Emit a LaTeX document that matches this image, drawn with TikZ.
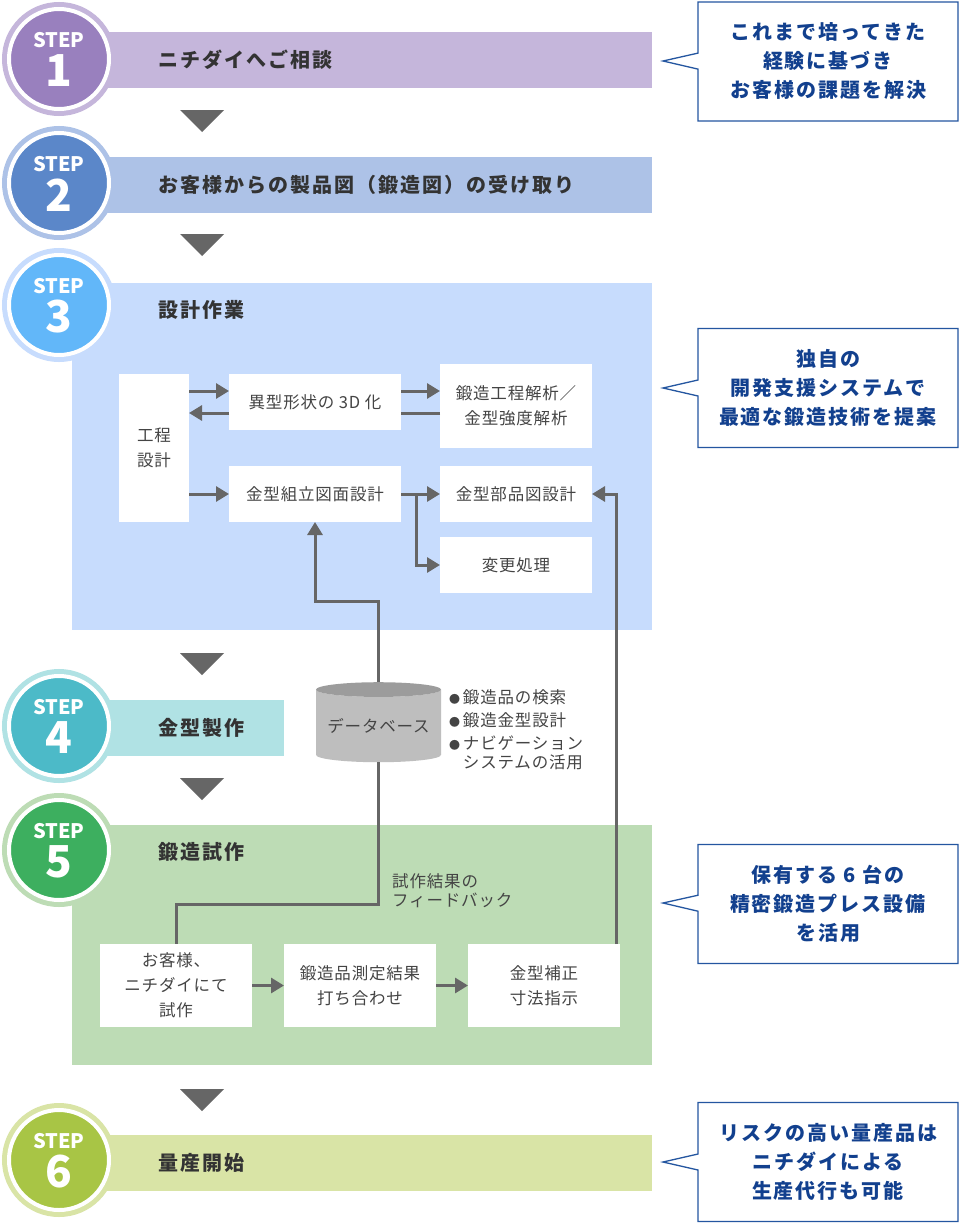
\documentclass[tikz,border=0pt]{standalone}
\usepackage{fontspec}
\setmainfont{Noto Sans CJK JP}
\newfontfamily\widejp[LetterSpace=10]{Noto Sans CJK JP}
\newfontfamily\plainjp[LetterSpace=5]{Noto Sans CJK JP}
\usetikzlibrary{arrows.meta,positioning,calc,shapes.geometric,shapes.callouts}
\definecolor{ringA}{HTML}{C5B6DB}\definecolor{coreA}{HTML}{9980BE}
\definecolor{ringB}{HTML}{ADC2E7}\definecolor{coreB}{HTML}{5B87C9}
\definecolor{ringC}{HTML}{C7DCFD}\definecolor{coreC}{HTML}{62B7F9}
\definecolor{ringD}{HTML}{B0E2E4}\definecolor{coreD}{HTML}{4CBAC8}
\definecolor{ringE}{HTML}{BDDCB5}\definecolor{coreE}{HTML}{3DAF5F}
\definecolor{ringF}{HTML}{D9E4A6}\definecolor{coreF}{HTML}{A8C545}
\definecolor{inkdark}{HTML}{333333}
\definecolor{inkbox}{HTML}{444444}
\definecolor{flowgray}{HTML}{666666}
\definecolor{calloutline}{HTML}{2456A0}
\definecolor{callouttext}{HTML}{12408E}
\definecolor{dbbody}{HTML}{BEBEBE}
\definecolor{dbtop}{HTML}{9C9C9C}
\tikzset{
  disc/.style 2 args={circle, minimum size=100pt, inner sep=0pt, fill=#2, draw=white, line width=4pt, preaction={draw=#1, line width=14pt}},
  steptag/.style={text=white, inner sep=0pt, font=\bfseries\fontsize{20}{20}\selectfont},
  stepno/.style={text=white, inner sep=0pt, font=\bfseries\fontsize{44}{44}\selectfont},
  stepbar/.style={anchor=west, minimum height=56pt, inner sep=0pt, outer sep=0pt, fill=#1},
  panel/.style={anchor=north west, inner sep=0pt, outer sep=0pt, fill=#1},
  steptitle/.style={anchor=west, inner sep=0pt, text=inkdark, font=\widejp\bfseries\fontsize{20}{24}\selectfont},
  box/.style={fill=white, align=center, inner sep=0pt, outer sep=0pt, text=inkbox, font=\plainjp\fontsize{16.5}{25}\selectfont},
  note/.style={align=left, inner sep=0pt, text=inkbox, font=\plainjp\fontsize{16.5}{19}\selectfont},
  dbase/.style={cylinder, shape border rotate=90, aspect=0.144, minimum width=125pt, minimum height=80pt, inner sep=0pt, outer sep=0pt,
    cylinder uses custom fill, cylinder body fill=dbbody, cylinder end fill=dbtop, text=inkbox, font=\plainjp\fontsize{16.5}{20}\selectfont},
  bubble/.style={rectangle callout, fill=white, draw=calloutline, line width=1.3pt, minimum width=260pt, minimum height=119pt,
    callout pointer width=16pt, align=center, inner sep=0pt, text=callouttext, font=\widejp\bfseries\fontsize{20}{29}\selectfont},
  arr/.style={draw=flowgray, line width=3pt, -{Triangle[length=13pt,width=15pt]}},
  wire/.style={draw=flowgray, line width=3pt},
  dropmark/.pic={\fill[flowgray] (-22,0) -- (22,0) -- (0,22) -- cycle;}
}
\newcommand{\dotmark}{{\fontsize{11}{11}\selectfont ●}\,}

\begin{document}
\begin{tikzpicture}[x=1pt, y=-1pt, node distance=15pt and 39pt]
  \useasboundingbox (0,0) rectangle (960,1223);
  \fill[white] (0,0) rectangle (960,1223);
  % bars and panels
  \node[stepbar=ringA, minimum width=592pt] (bar1) at (60,60) {};
  \node[stepbar=ringB, minimum width=592pt] (bar2) at (60,184.5) {};
  \node[panel=ringC, minimum width=580pt, minimum height=347pt] (pan3) at (72,283) {};
  \node[stepbar=ringD, minimum width=224pt] (bar4) at (60,728) {};
  \node[panel=ringE, minimum width=580pt, minimum height=240pt] (pan5) at (72,825) {};
  \node[stepbar=ringF, minimum width=592pt] (bar6) at (60,1162.5) {};
  \node[steptitle] (t1) at (158,60) {ニチダイへご相談};
  \node[steptitle] (t2) at (158,184.5) {お客様からの製品図（鍛造図）の受け取り};
  \node[steptitle] (t3) at (158,310) {設計作業};
  \node[steptitle] (t4) at (158,728) {金型製作};
  \node[steptitle] (t5) at (158,852) {鍛造試作};
  \node[steptitle] (t6) at (158,1163) {量産開始};
  \pic at (202,110) {dropmark}; \pic at (202,234) {dropmark}; \pic at (202,653) {dropmark};
  \pic at (202,778) {dropmark}; \pic at (202,1089) {dropmark};
  % step discs
  \node[disc={ringA}{coreA}] (c1) at (59,59) {};
  \node[steptag] (c1tag) at ([yshift=19pt]c1.center) {STEP}; \node[stepno] (c1no) at ([yshift=-12pt]c1.center) {1};
  \node[disc={ringB}{coreB}] (c2) at (59,183) {};
  \node[steptag] (c2tag) at ([yshift=19pt]c2.center) {STEP}; \node[stepno] (c2no) at ([yshift=-12pt]c2.center) {2};
  \node[disc={ringC}{coreC}] (c3) at (59,305) {};
  \node[steptag] (c3tag) at ([yshift=19pt]c3.center) {STEP}; \node[stepno] (c3no) at ([yshift=-12pt]c3.center) {3};
  \node[disc={ringD}{coreD}] (c4) at (59,726) {};
  \node[steptag] (c4tag) at ([yshift=19pt]c4.center) {STEP}; \node[stepno] (c4no) at ([yshift=-12pt]c4.center) {4};
  \node[disc={ringE}{coreE}] (c5) at (59,850) {};
  \node[steptag] (c5tag) at ([yshift=19pt]c5.center) {STEP}; \node[stepno] (c5no) at ([yshift=-12pt]c5.center) {5};
  \node[disc={ringF}{coreF}] (c6) at (59,1160) {};
  \node[steptag] (c6tag) at ([yshift=19pt]c6.center) {STEP}; \node[stepno] (c6no) at ([yshift=-12pt]c6.center) {6};
  % design work
  \node[box, minimum width=70pt, minimum height=148pt] (plan) at (154,448) {工程\\設計};
  \node[box, minimum width=172pt, minimum height=56pt] (assy) at (315,494) {金型組立図面設計};
  \node[box, minimum width=172pt, minimum height=56pt, above=36pt of assy] (shape3d) {異型形状の 3D 化};
  \node[box, minimum width=152pt, minimum height=56pt, right=of assy] (parts) {金型部品図設計};
  \node[box, minimum width=152pt, minimum height=84pt] (analysis) at (516,406) {鍛造工程解析／\\金型強度解析};
  \node[box, minimum width=152pt, minimum height=56pt, below=of parts] (change) {変更処理};
  % trial forging
  \node[box, minimum width=152pt, minimum height=83pt] (trial) at (176,985.5) {お客様、\\ニチダイにて\\試作};
  \node[box, minimum width=152pt, minimum height=83pt, right=32pt of trial] (measure) {鍛造品測定結果\\打ち合わせ};
  \node[box, minimum width=152pt, minimum height=83pt, right=32pt of measure] (fix) {金型補正\\寸法指示};
  % database
  \node[dbase] (db) at (378.5,726) {データベース};
  \node[note, right=8pt of db, yshift=-4pt] (dblist) {\dotmark 鍛造品の検索\\[4pt]\dotmark 鍛造金型設計\\[4pt]\dotmark ナビゲーション\\\phantom{\dotmark}システムの活用};
  \node[note, anchor=west] (fb) at (392,891) {試作結果の\\フィードバック};
  % connectors
  \draw[arr] (plan.east |- 0,391) -- (shape3d.west |- 0,391); \draw[arr] (shape3d.west |- 0,413) -- (plan.east |- 0,413);
  \draw[arr] (shape3d.east |- 0,391) -- (analysis.west |- 0,391); \draw[wire] (analysis.west |- 0,413) -- (shape3d.east |- 0,413);
  \draw[arr] (plan.east |- assy.west) -- (assy.west); \draw[arr] (assy) -- (parts);
  \draw[arr] ([xshift=15pt]assy.east) |- (change.west);
  \draw[arr] (db.north) -- ++(0,-81) -| (assy.south);
  \draw[wire] (db.south) -- ++(0,142) -| (trial.north);
  \draw[arr] (trial) -- (measure); \draw[arr] (measure) -- (fix);
  \draw[arr] ([xshift=-4pt]fix.north east) |- (parts.east);
  % callouts
  \node[bubble, callout absolute pointer={(663,61)}] (say1) at (828,61.5) {これまで培ってきた\\経験に基づき\\お客様の課題を解決};
  \node[bubble, callout absolute pointer={(663,388)}] (say2) at (828,388) {独自の\\開発支援システムで\\最適な鍛造技術を提案};
  \node[bubble, callout absolute pointer={(663,903)}] (say3) at (828,904) {保有する 6 台の\\精密鍛造プレス設備\\を活用};
  \node[bubble, callout absolute pointer={(663,1162)}] (say4) at (828,1162) {リスクの高い量産品は\\ニチダイによる\\生産代行も可能};
\end{tikzpicture}
\end{document}
